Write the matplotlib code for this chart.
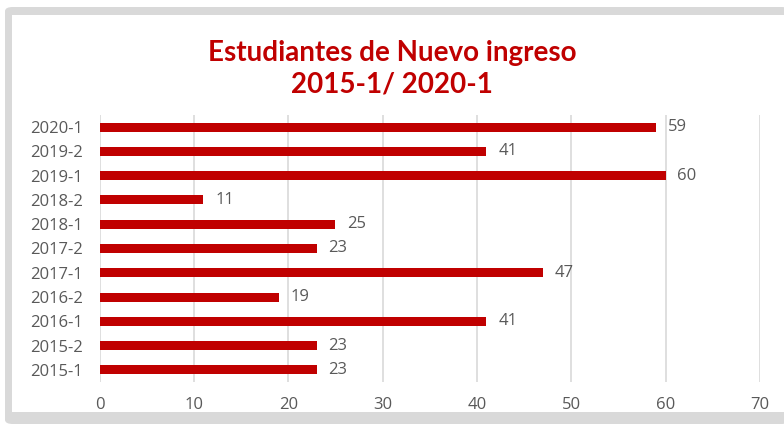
import matplotlib.pyplot as plt
from matplotlib.patches import FancyBboxPatch, Rectangle

plt.rcParams["font.family"] = ["Open Sans", "DejaVu Sans"]

periodos = ["2015-1", "2015-2", "2016-1", "2016-2", "2017-1", "2017-2",
            "2018-1", "2018-2", "2019-1", "2019-2", "2020-1"]
estudiantes = [23, 23, 41, 19, 47, 23, 25, 11, 60, 41, 59]
xticks = [0, 10, 20, 30, 40, 50, 60, 70]

rojo = "#C00000"
gris_txt = "#595959"

W, H = 784, 424
fig = plt.figure(figsize=(W / 100, H / 100), dpi=100)

# marco gris del grafico
fig.add_artist(FancyBboxPatch((5 / W, 0), 1.0, 1 - 7 / H,
                              boxstyle="round,pad=0,rounding_size=0.01",
                              transform=fig.transFigure, fc="#D9D9D9",
                              ec="none", zorder=-2))
fig.add_artist(Rectangle((12 / W, 12 / H), 1.0, 1 - 27 / H,
                         transform=fig.transFigure, fc="white",
                         ec="none", zorder=-1))

ax = fig.add_axes([99.5 / W, 1 - 382 / H, 660.5 / W, 267 / H])
ax.set_zorder(2)
ax.set_facecolor("none")
y = range(len(periodos))
ax.barh(y, estudiantes, height=0.37, color=rojo, zorder=3)
for yi, v in zip(y, estudiantes):
    ax.text(v + 1.25, yi, str(v), va="center", ha="left", fontsize=12,
            color=gris_txt)

ax.set_xlim(0, 70)
ax.set_ylim(-0.5, len(periodos) - 0.5)
ax.set_xticks(xticks)
ax.set_yticks(list(y))
ax.set_yticklabels(periodos)
ax.tick_params(axis="both", length=0, labelsize=12, colors=gris_txt)
ax.tick_params(axis="x", pad=11)
ax.tick_params(axis="y", pad=12)
ax.grid(axis="x", color="#D9D9D9", lw=1.2, zorder=0)
for s in ax.spines.values():
    s.set_visible(False)

fig.text(0.5, 1 - 52.5 / H, "Estudiantes de Nuevo ingreso", ha="center",
         va="center", fontsize=20, fontweight="bold", color=rojo,
         family=["Lato", "DejaVu Sans"])
fig.text(0.5, 1 - 85 / H, "2015-1/ 2020-1", ha="center", va="center",
         fontsize=20, fontweight="bold", color=rojo,
         family=["Lato", "DejaVu Sans"])

fig.savefig("out.png", dpi=100)
